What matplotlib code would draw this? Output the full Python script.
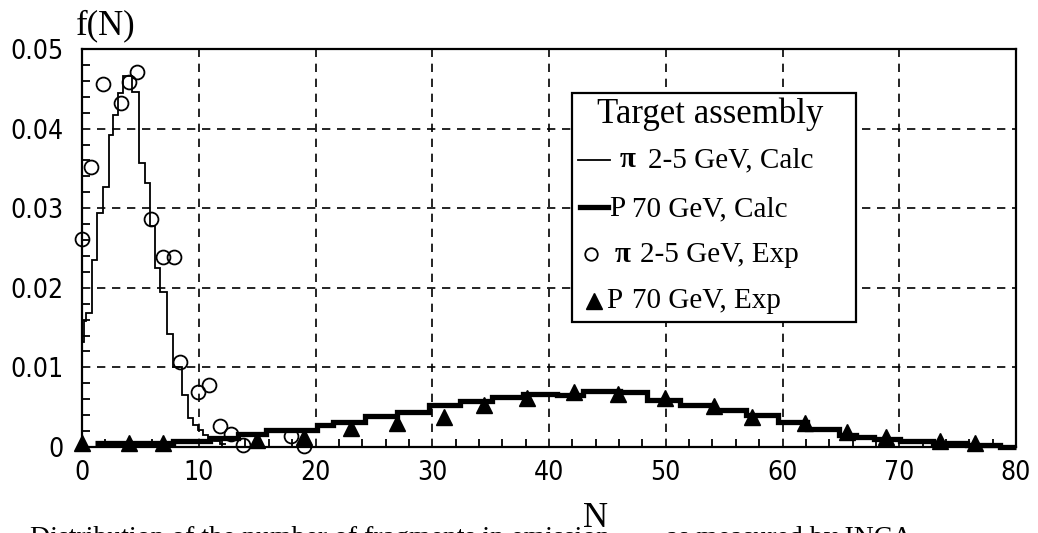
import matplotlib
matplotlib.use("Agg")
import matplotlib.pyplot as plt
from matplotlib import font_manager
from matplotlib.font_manager import FontProperties
from matplotlib.patches import Rectangle
from matplotlib.lines import Line2D
from matplotlib.ticker import MultipleLocator, FixedLocator, FixedFormatter

# ---------------- data ----------------
pi_calc_edges = [0, 0.17, 0.34, 0.83, 1.26, 1.77, 2.34, 2.63, 3.11, 3.54, 4.25, 4.91,
                 5.4, 5.82, 6.25, 6.68, 7.25, 7.82, 8.54, 9.1, 9.54, 9.97, 10.4, 10.8,
                 11.3, 11.8, 12.3]
pi_calc_vals = [0.0132, 0.0158, 0.0168, 0.0235, 0.0294, 0.0327, 0.0392, 0.0417, 0.0445,
                0.0466, 0.0446, 0.0357, 0.0332, 0.0278, 0.0225, 0.0195, 0.0142, 0.0101,
                0.0065, 0.0037, 0.0028, 0.0021, 0.0015, 0.0010, 0.0007, 0.0004]

p_calc_edges = [1.1, 7.8, 11.0, 13.4, 15.8, 20.1, 21.5, 24.2, 26.95, 29.7, 32.4, 35.1,
                37.8, 40.7, 42.9, 46.1, 48.4, 51.2, 53.9, 56.9, 59.6, 62.1, 64.8, 66.3,
                67.8, 70.1, 72.9, 75.8, 78.6, 80]
p_calc_vals = [0.00046, 0.0008, 0.0011, 0.0016, 0.0021, 0.0028, 0.0032, 0.0039, 0.0044,
               0.0053, 0.0058, 0.0063, 0.0067, 0.0065, 0.0070, 0.0069, 0.0059, 0.0053,
               0.0047, 0.0040, 0.0032, 0.0023, 0.0015, 0.0012, 0.00096, 0.00075, 0.0005,
               0.00025, 0.0]

pi_exp_n = [0, 0.8, 1.8, 3.3, 4.0, 4.75, 5.95, 6.9, 7.9, 8.4, 9.9, 10.85, 11.85, 12.8,
            13.8, 17.9, 19.0]
pi_exp_f = [0.0261, 0.0352, 0.0456, 0.0432, 0.0458, 0.0471, 0.0287, 0.0239, 0.0239,
            0.0107, 0.0069, 0.0078, 0.0027, 0.0016, 0.0002, 0.0014, 0.0001]

p_exp_n = [0, 4.0, 6.9, 15.0, 19.0, 23.0, 27.0, 31.0, 34.4, 38.1, 42.1, 45.9, 49.9, 54.1,
           57.4, 61.9, 65.5, 68.9, 73.5, 76.5]
p_exp_f = [0.0005, 0.0005, 0.0005, 0.0009, 0.0012, 0.0024, 0.0030, 0.0038, 0.0053, 0.0061,
           0.0069, 0.0067, 0.0062, 0.0051, 0.0038, 0.0030, 0.0019, 0.0012, 0.0007, 0.0005]

x_ticks = [0, 10, 20, 30, 40, 50, 60, 70, 80]
y_ticks = [0, 0.01, 0.02, 0.03, 0.04, 0.05]
y_tick_labels = ["0", "0.01", "0.02", "0.03", "0.04", "0.05"]

legend_title = "Target assembly"
legend_entries = [("π", "2-5 GeV, Calc"), ("P", "70 GeV, Calc"),
                  ("π", "2-5 GeV, Exp"), ("P", "70 GeV, Exp")]
y_title = "f(N)"
x_title = "N"
caption = "Distribution of the number of fragments in emission        as measured by INCA"

# ---------------- fonts ----------------
def narrow_font(size):
    pref = ["LiberationSansNarrow-Regular", "DejaVuSansCondensed.ttf",
            "DejaVuSansCondensed"]
    paths = [f.fname for f in font_manager.fontManager.ttflist]
    for key in pref:
        for p in paths:
            if p.split("/")[-1].startswith(key) and "Bold" not in p and "Oblique" not in p \
                    and "Italic" not in p:
                return FontProperties(fname=p, size=size)
    for p in paths:
        name = p.split("/")[-1]
        if ("Narrow" in name or "Condensed" in name) and "Bold" not in name \
                and "Italic" not in name and "Oblique" not in name:
            return FontProperties(fname=p, size=size)
    return FontProperties(family="DejaVu Sans", size=size - 2)

tick_fp = narrow_font(19)
serif = ["Liberation Serif", "DejaVu Serif"]

# ---------------- figure ----------------
W, H = 1038, 533
fig = plt.figure(figsize=(W / 100, H / 100), dpi=100)
fig.patch.set_facecolor("white")

def fx(x):
    return x / W

def fy(y):
    return 1 - y / H

ax = fig.add_axes([fx(82), fy(447), (1016 - 82) / W, (447 - 49) / H])
ax.set_xlim(0, 80)
ax.set_ylim(0, 0.05)

for s in ax.spines.values():
    s.set_linewidth(1.6)
    s.set_color("black")

ax.xaxis.set_major_locator(FixedLocator(x_ticks))
ax.yaxis.set_major_locator(FixedLocator(y_ticks))
ax.yaxis.set_major_formatter(FixedFormatter(y_tick_labels))
ax.xaxis.set_minor_locator(MultipleLocator(2))
ax.yaxis.set_minor_locator(MultipleLocator(0.002))
ax.tick_params(which="major", length=0, pad=0)
ax.tick_params(axis="y", which="major", pad=13)
ax.tick_params(axis="x", which="major", pad=9)
ax.tick_params(which="minor", direction="in", length=6, width=1.3, color="black")
ax.tick_params(which="minor", top=False, right=False)
for lab in ax.get_xticklabels() + ax.get_yticklabels():
    lab.set_fontproperties(tick_fp)

ax.grid(True, which="major", color="black", linestyle=(0, (5, 4)), linewidth=1.2)
ax.set_axisbelow(True)

# data
ax.stairs(pi_calc_vals, pi_calc_edges, baseline=None, color="black", linewidth=1.3,
          zorder=3, clip_on=False)
ax.stairs(p_calc_vals, p_calc_edges, baseline=None, color="black", linewidth=3.8,
          zorder=3, clip_on=False)
ax.plot(pi_exp_n, pi_exp_f, linestyle="none", marker="o", markersize=10,
        markerfacecolor="none", markeredgecolor="black", markeredgewidth=1.3,
        zorder=4, clip_on=False)
ax.plot(p_exp_n, p_exp_f, linestyle="none", marker="^", markersize=11,
        markerfacecolor="black", markeredgecolor="black", zorder=4, clip_on=False)

# titles
fig.text(fx(76), fy(34), y_title, family=serif, fontsize=25, ha="left", va="baseline")
fig.text(fx(596), fy(527), x_title, family=serif, fontsize=25, ha="center", va="baseline",
         zorder=3)
fig.text(fx(30), fy(545), caption, family=serif, fontsize=20, ha="left", va="baseline",
         zorder=2)

# legend (manual)
fig.add_artist(Rectangle((fx(572), fy(322)), (856 - 572) / W, (322 - 93) / H,
                         transform=fig.transFigure, facecolor="white",
                         edgecolor="black", linewidth=1.6, zorder=5))
fig.text(fx(710), fy(123), legend_title, family=serif, fontsize=25, ha="center",
         va="baseline", zorder=6)

fig.add_artist(Line2D([fx(578), fx(610)], [fy(160), fy(160)], color="black",
                      linewidth=1.3, transform=fig.transFigure, zorder=6))
fig.add_artist(Line2D([fx(580), fx(608)], [fy(207), fy(207)], color="black",
                      linewidth=3.8, transform=fig.transFigure, zorder=6))
fig.add_artist(Line2D([fx(591)], [fy(254)], linestyle="none", marker="o", markersize=9,
                      markerfacecolor="none", markeredgecolor="black",
                      markeredgewidth=1.3, transform=fig.transFigure, zorder=6))
fig.add_artist(Line2D([fx(594)], [fy(301)], linestyle="none", marker="^", markersize=11,
                      color="black", transform=fig.transFigure, zorder=6))

sym_x = [620, 609, 615, 606]
txt_x = [648, 632, 640, 632]
base_y = [167, 216, 262, 308]
for (sym, txt), sx, tx, by in zip(legend_entries, sym_x, txt_x, base_y):
    bold = sym == "π"
    fig.text(fx(sx), fy(by), sym, family=serif, fontsize=21,
             weight="bold" if bold else "normal", ha="left", va="baseline", zorder=6)
    fig.text(fx(tx), fy(by), txt, family=serif, fontsize=21, ha="left",
             va="baseline", zorder=6)

fig.savefig("out.png", dpi=100, facecolor="white")
